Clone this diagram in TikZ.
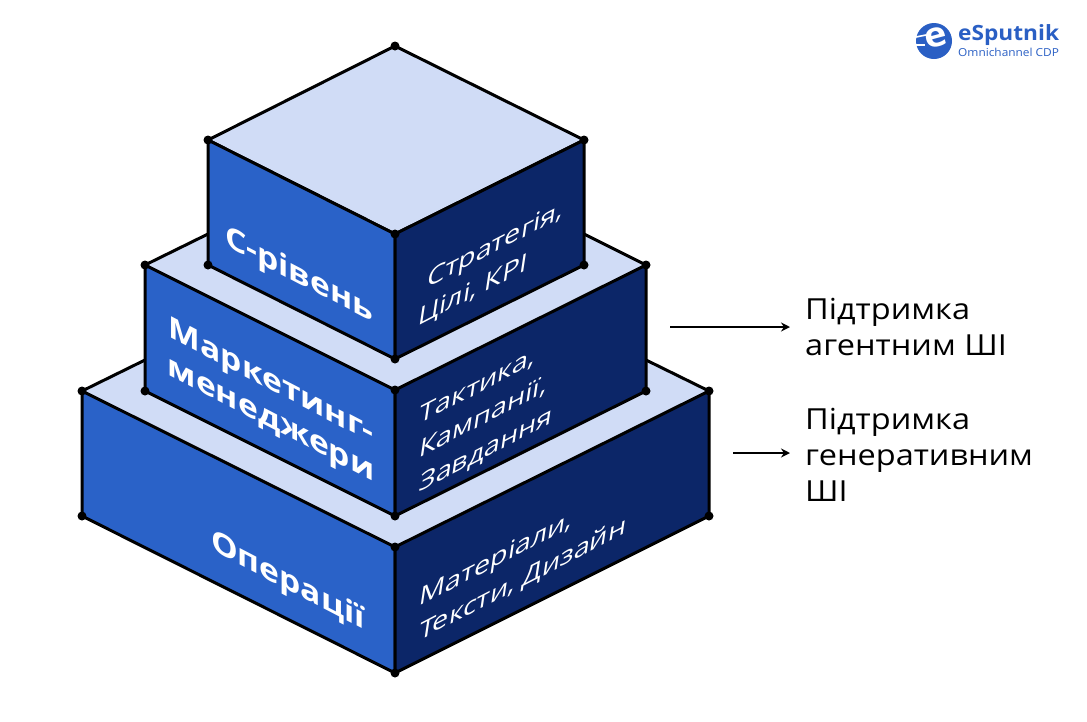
\documentclass[tikz,border=0pt]{standalone}
\usepackage{fontspec}
\setmainfont{Open Sans}[FakeStretch=1.12]
\newfontfamily\logofont{Open Sans}[FakeStretch=1.08]
\definecolor{topface}{HTML}{D0DCF6}
\definecolor{leftface}{HTML}{2A62C8}
\definecolor{rightface}{HTML}{0C2668}
\definecolor{logoblue}{HTML}{2A5FC4}
\usetikzlibrary{arrows.meta}
\tikzset{
  x=1pt,y=-1pt,
  edge/.style={draw=black,line width=3pt,line join=round},
  topf/.style={fill=topface},
  leftf/.style={fill=leftface},
  rightf/.style={fill=rightface},
  pin/.style={circle,fill=black,inner sep=0pt,minimum size=9pt},
  lefttext/.style={text=white,font=\fontsize{30}{38}\selectfont\bfseries,align=center,inner sep=0pt,cm={1,-0.52,0,1,(0,0)}},
  righttext/.style={text=white,font=\fontsize{25.5}{37}\selectfont,align=left,inner sep=0pt,cm={1,0.52,0.15,1,(0,0)}},
  sidetext/.style={text=black,font=\fontsize{29}{36}\selectfont,align=left,inner sep=0pt,anchor=north west},
  pointer/.style={draw=black,line width=2pt,-{Stealth[length=9pt,width=9pt]}},
}
\begin{document}
\begin{tikzpicture}
\useasboundingbox (0,0) rectangle (1087,721);
% bottom tier
\coordinate (bl) at (82,391); \coordinate (br) at (709,391); \coordinate (bf) at (395,547);
\coordinate (bbl) at (82,516); \coordinate (bbr) at (709,516); \coordinate (bb) at (395,673);
\coordinate (bbackl) at (145,360); \coordinate (bbackr) at (646,360);
\fill[topf] (bl) -- (bbackl) -- (bbackr) -- (br) -- (bf) -- cycle;
\draw[edge,leftf] (bl) -- (bf) -- (bb) -- (bbl) -- cycle;
\draw[edge,rightf] (bf) -- (br) -- (bbr) -- (bb) -- cycle;
\draw[edge] (bl) -- (bbackl);
\draw[edge] (br) -- (bbackr);
% middle tier
\coordinate (ml) at (145,265); \coordinate (mr) at (646,265); \coordinate (mf) at (395,390);
\coordinate (mbl) at (145,391); \coordinate (mbr) at (646,391); \coordinate (mb) at (395,516);
\coordinate (mbackl) at (208,234); \coordinate (mbackr) at (584,234);
\fill[topf] (ml) -- (mbackl) -- (mbackr) -- (mr) -- (mf) -- cycle;
\draw[edge,leftf] (ml) -- (mf) -- (mb) -- (mbl) -- cycle;
\draw[edge,rightf] (mf) -- (mr) -- (mbr) -- (mb) -- cycle;
\draw[edge] (ml) -- (mbackl);
\draw[edge] (mr) -- (mbackr);
% top tier
\coordinate (tb) at (395,46);
\coordinate (tl) at (208,140); \coordinate (tr) at (584,140); \coordinate (tf) at (395,234);
\coordinate (tbl) at (208,265); \coordinate (tbr) at (584,265); \coordinate (tbb) at (395,359);
\draw[edge,topf] (tb) -- (tr) -- (tf) -- (tl) -- cycle;
\draw[edge,leftf] (tl) -- (tf) -- (tbb) -- (tbl) -- cycle;
\draw[edge,rightf] (tf) -- (tr) -- (tbr) -- (tbb) -- cycle;
% pins
\foreach \p in {bl,br,bf,bbl,bbr,bb,ml,mr,mf,mbl,mbr,mb,tb,tl,tr,tf,tbl,tbr,tbb}
  \node[pin] at (\p) {};
% labels
\node[lefttext] (lc) at (299,276) {С-рівень};
\node[lefttext] (lm) at (271,402) {Маркетинг-\\менеджери};
\node[lefttext] (lo) at (288,582) {Операції};
\node[righttext] (rc) at (489,266) {\hspace*{7pt}Стратегія,\\\hspace*{4pt}Цілі, КРІ};
\node[righttext] (rm) at (486,417) {Тактика,\\\hspace*{5.5pt}Кампанії,\\\hspace*{11pt}Завдання};
\node[righttext] (ro) at (523,563) {Матеріали,\\\hspace*{5pt}Тексти, Дизайн};
% side
\node[sidetext] (s1) at (805,298) {Підтримка\\агентним ШІ};
\node[sidetext] (s2) at (805,408) {Підтримка\\генеративним\\ШІ};
\coordinate (a1) at (670,327); \coordinate (a1e) at (790,327);
\coordinate (a2) at (733,453); \coordinate (a2e) at (790,453);
\draw[pointer] (a1) -- (a1e);
\draw[pointer] (a2) -- (a2e);
% logo
\fill[logoblue] (934,41) circle (18);
\node[text=white,font=\fontsize{34}{34}\selectfont\bfseries,inner sep=0pt,rotate=15] (le) at (936,38) {e};
\draw[white,line width=1.6pt] (916,37) -- (926,35);
\draw[white,line width=1.6pt] (916,45) -- (925,45);
\node[anchor=west,text=logoblue,font=\logofont\fontsize{21}{21}\selectfont\bfseries,inner sep=0pt] (l1) at (958,35) {eSputnik};
\node[anchor=west,text=logoblue,font=\logofont\fontsize{11}{11}\selectfont,inner sep=0pt] (l2) at (958,52) {Omnichannel CDP};
\end{tikzpicture}
\end{document}
